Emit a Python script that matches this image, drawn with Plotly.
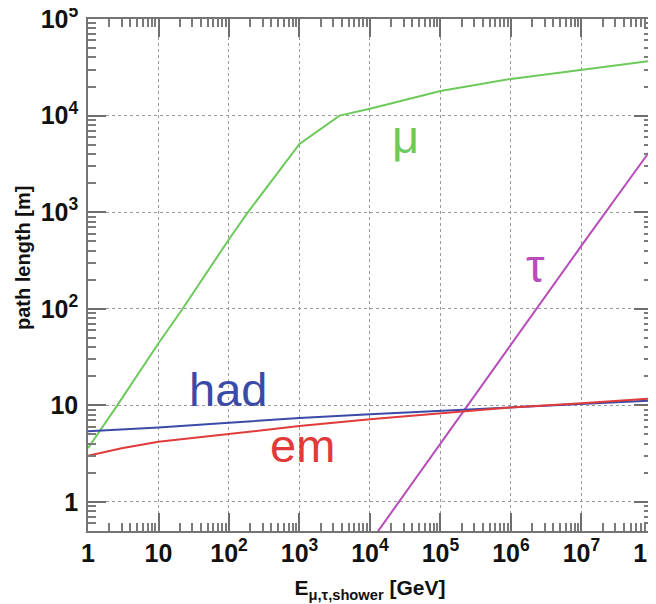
import math
import plotly.graph_objects as go

# ---- data ----
mu_E = [1, 2.6, 10, 22, 100, 186, 1000, 3700, 1e4, 1e5, 1e6, 1e7, 1e8]
mu_L = [3.6, 10, 44, 100, 525, 1000, 5100, 1e4, 1.18e4, 1.8e4, 2.4e4, 3.0e4, 3.7e4]

had_E = [1, 10, 100, 1e3, 1e4, 1e5, 1e6, 1e7, 1e8]
had_L = [5.4, 5.9, 6.6, 7.4, 8.1, 8.8, 9.5, 10.3, 11.2]

em_E = [1, 3, 10, 100, 1e3, 1e4, 1e5, 1e6, 1e7, 1e8]
em_L = [3.0, 3.6, 4.2, 5.1, 6.1, 7.2, 8.3, 9.5, 10.5, 11.8]

tau_E = [1e4, 1e5, 1e6, 1e7, 1e8]
tau_L = [0.38, 4.0, 43, 450, 4600]

labels = ["μ", "τ", "had", "em"]
label_E = [10**4.50, 10**6.35, 10**1.99, 10**3.04]
label_L = [10**3.78, 10**2.45, 10**1.16, 10**0.58]

C_MU = "#6cc95a"
C_TAU = "#b84cbb"
C_HAD = "#3b4aa8"
C_EM = "#e03a3a"
label_colors = [C_MU, C_TAU, C_HAD, C_EM]

FONT = "Liberation Sans, Arial, Helvetica, sans-serif"
X_RANGE = [0, 8.0005]
Y_RANGE = [math.log10(0.5), 5.0005]

fig = go.Figure()
for E, L, c in [(mu_E, mu_L, C_MU), (tau_E, tau_L, C_TAU),
                (had_E, had_L, C_HAD), (em_E, em_L, C_EM)]:
    fig.add_trace(go.Scatter(x=E, y=L, mode="lines",
                             line=dict(color=c, width=2), showlegend=False,
                             hoverinfo="skip"))

for t, xe, yl, c in zip(labels, label_E, label_L, label_colors):
    fig.add_annotation(x=math.log10(xe), y=math.log10(yl), text=t,
                       showarrow=False, font=dict(family=FONT, size=47, color=c),
                       xref="x", yref="y")

axis_common = dict(
    type="log", automargin=False,
    showline=True, linecolor="#737373", linewidth=1.5, mirror="ticks",
    ticks="inside", ticklen=18, tickwidth=1.5, tickcolor="#6e6e6e",
    showgrid=True, gridcolor="#9a9a9a", gridwidth=1, griddash="dot",
    zeroline=False, ticklabeloverflow="allow",
    tickmode="linear", tick0=0, dtick=1, exponentformat="power",
    tickfont=dict(family=FONT, size=20, color="#111", weight="bold"),
    minor=dict(ticks="inside", ticklen=8, tickwidth=1.5, tickcolor="#7a7a7a",
               showgrid=False),
)

fig.update_layout(
    xaxis=dict(**axis_common, range=X_RANGE,
               title=dict(text="E<sub>μ,τ,shower</sub> [GeV]", standoff=15,
                          font=dict(family=FONT, size=21, color="#111", weight="bold"))),
    yaxis=dict(**axis_common, range=Y_RANGE, ticklabelstandoff=4),
)

# page body has an 8px margin, so the figure is 8px smaller and margins shifted
fig.add_annotation(text="path length [m]", textangle=-90, showarrow=False,
                   xref="paper", yref="paper", x=(23 - 88) / 564, y=(531 - 258) / 512,
                   xanchor="center", yanchor="middle",
                   font=dict(family=FONT, size=20, color="#111", weight="bold"))

fig.update_layout(width=648, height=596,
                  margin=dict(l=80, r=4, t=11, b=73, autoexpand=False),
                  paper_bgcolor="white", plot_bgcolor="white",
                  showlegend=False)

fig.write_html("out.html")
